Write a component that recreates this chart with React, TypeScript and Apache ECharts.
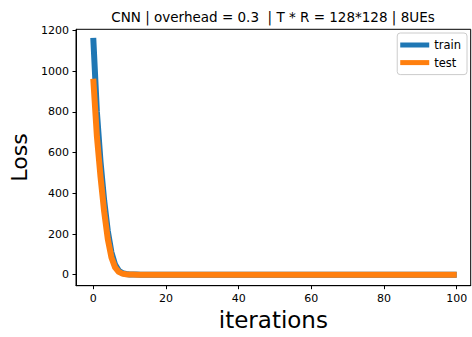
import React, { useEffect, useRef } from "react";
import * as echarts from "echarts";

const titleText = "CNN | overhead = 0.3  | T * R = 128*128 | 8UEs";
const seriesNames = ["train", "test"];
const xTicks = [0, 20, 40, 60, 80, 100];
const yTicks = [0, 200, 400, 600, 800, 1000, 1200];

const trainLoss = [
  1164, 800, 555, 365, 215, 110, 50, 20, 8, 3.5,
  1.5, 0.8, 0.5, 0.4, 0.35, 0.3, 0.3, 0.28, 0.26, 0.25,
  0.24, 0.23, 0.22, 0.22, 0.21, 0.2, 0.2, 0.2, 0.19, 0.19,
  0.18, 0.18, 0.18, 0.17, 0.17, 0.17, 0.16, 0.16, 0.16, 0.15,
  0.15, 0.15, 0.15, 0.15, 0.15, 0.15, 0.15, 0.15, 0.15, 0.15,
  0.14, 0.14, 0.14, 0.14, 0.14, 0.14, 0.14, 0.14, 0.14, 0.14,
  0.13, 0.13, 0.13, 0.13, 0.13, 0.13, 0.13, 0.13, 0.13, 0.13,
  0.12, 0.12, 0.12, 0.12, 0.12, 0.12, 0.12, 0.12, 0.12, 0.12,
  0.11, 0.11, 0.11, 0.11, 0.11, 0.11, 0.11, 0.11, 0.11, 0.11,
  0.1, 0.1, 0.1, 0.1, 0.1, 0.1, 0.1, 0.1, 0.1, 0.1,
  0.1,
];

const testLoss = [
  963, 680, 480, 310, 175, 85, 36, 14, 5.5, 2.2,
  1.0, 0.6, 0.4, 0.35, 0.3, 0.28, 0.26, 0.25, 0.24, 0.23,
  0.22, 0.22, 0.21, 0.21, 0.2, 0.2, 0.19, 0.19, 0.19, 0.18,
  0.18, 0.18, 0.17, 0.17, 0.17, 0.16, 0.16, 0.16, 0.16, 0.15,
  0.15, 0.15, 0.15, 0.15, 0.15, 0.14, 0.14, 0.14, 0.14, 0.14,
  0.14, 0.14, 0.13, 0.13, 0.13, 0.13, 0.13, 0.13, 0.13, 0.13,
  0.12, 0.12, 0.12, 0.12, 0.12, 0.12, 0.12, 0.12, 0.12, 0.12,
  0.11, 0.11, 0.11, 0.11, 0.11, 0.11, 0.11, 0.11, 0.11, 0.11,
  0.1, 0.1, 0.1, 0.1, 0.1, 0.1, 0.1, 0.1, 0.1, 0.1,
  0.1, 0.1, 0.1, 0.1, 0.1, 0.1, 0.1, 0.1, 0.1, 0.1,
  0.1,
];

const FONT = "DejaVu Sans";

export default function App() {
  const ref = useRef<HTMLDivElement>(null);
  useEffect(() => {
    if (!ref.current) return;
    const chart = echarts.init(ref.current, undefined, { renderer: "svg" });
    const toPairs = (arr: number[]) => arr.map((v, i) => [i, v]);
    chart.setOption({
      animation: false,
      backgroundColor: "#fff",
      title: {
        text: titleText,
        left: 273,
        textAlign: "center",
        top: 10,
        padding: 0,
        textStyle: { fontFamily: FONT, fontSize: 13.5, fontWeight: "normal", color: "#000" },
      },
      legend: {
        orient: "vertical",
        right: 5,
        top: 33,
        icon: "rect",
        itemWidth: 29,
        itemHeight: 5,
        itemGap: 5.6,
        padding: [6, 6, 6, 3],
        borderColor: "#cccccc",
        borderWidth: 1,
        borderRadius: 3,
        backgroundColor: "rgba(255,255,255,0.8)",
        textStyle: { fontFamily: FONT, fontSize: 11.5, color: "#000", lineHeight: 12 },
        data: seriesNames,
      },
      grid: {
        left: 76,
        right: 1.3,
        top: 29.3,
        bottom: 51.3,
        show: true,
        borderColor: "#000",
        borderWidth: 1,
        backgroundColor: "transparent",
      },
      xAxis: {
        type: "value",
        min: -4.75,
        max: 103.85,
        name: "iterations",
        nameLocation: "middle",
        nameGap: 22,
        nameTextStyle: { fontFamily: FONT, fontSize: 23, color: "#000" },
        axisLine: { show: true, onZero: false, lineStyle: { color: "#000", width: 1 } },
        axisTick: { show: true, length: 3.5, lineStyle: { color: "#000" }, customValues: xTicks },
        axisLabel: {
          customValues: xTicks,
          formatter: (v: number) => String(v),
          margin: 7,
          fontFamily: FONT,
          fontSize: 11,
          color: "#000",
        },
        splitLine: { show: false },
      },
      yAxis: {
        type: "value",
        min: -54,
        max: 1206,
        name: "Loss",
        nameLocation: "middle",
        nameGap: 44,
        nameRotate: 90,
        nameTextStyle: { fontFamily: FONT, fontSize: 22, color: "#000" },
        axisLine: { show: true, onZero: false, lineStyle: { color: "#000", width: 1 } },
        axisTick: { show: true, length: 3.5, lineStyle: { color: "#000" }, customValues: yTicks },
        axisLabel: {
          customValues: yTicks,
          formatter: (v: number) => String(v),
          margin: 7,
          fontFamily: FONT,
          fontSize: 11,
          color: "#000",
        },
        splitLine: { show: false },
      },
      series: [
        {
          name: seriesNames[0],
          type: "line",
          data: toPairs(trainLoss),
          showSymbol: false,
          symbol: "none",
          color: "#1f77b4",
          lineStyle: { width: 6, color: "#1f77b4", cap: "butt", join: "round" },
        },
        {
          name: seriesNames[1],
          type: "line",
          data: toPairs(testLoss),
          showSymbol: false,
          symbol: "none",
          color: "#ff7f0e",
          lineStyle: { width: 6, color: "#ff7f0e", cap: "butt", join: "round" },
        },
      ],
    });
    return () => chart.dispose();
  }, []);
  return (
    <div
      ref={ref}
      style={{ position: "absolute", left: 0, top: 0, width: 472, height: 337 }}
    />
  );
}
